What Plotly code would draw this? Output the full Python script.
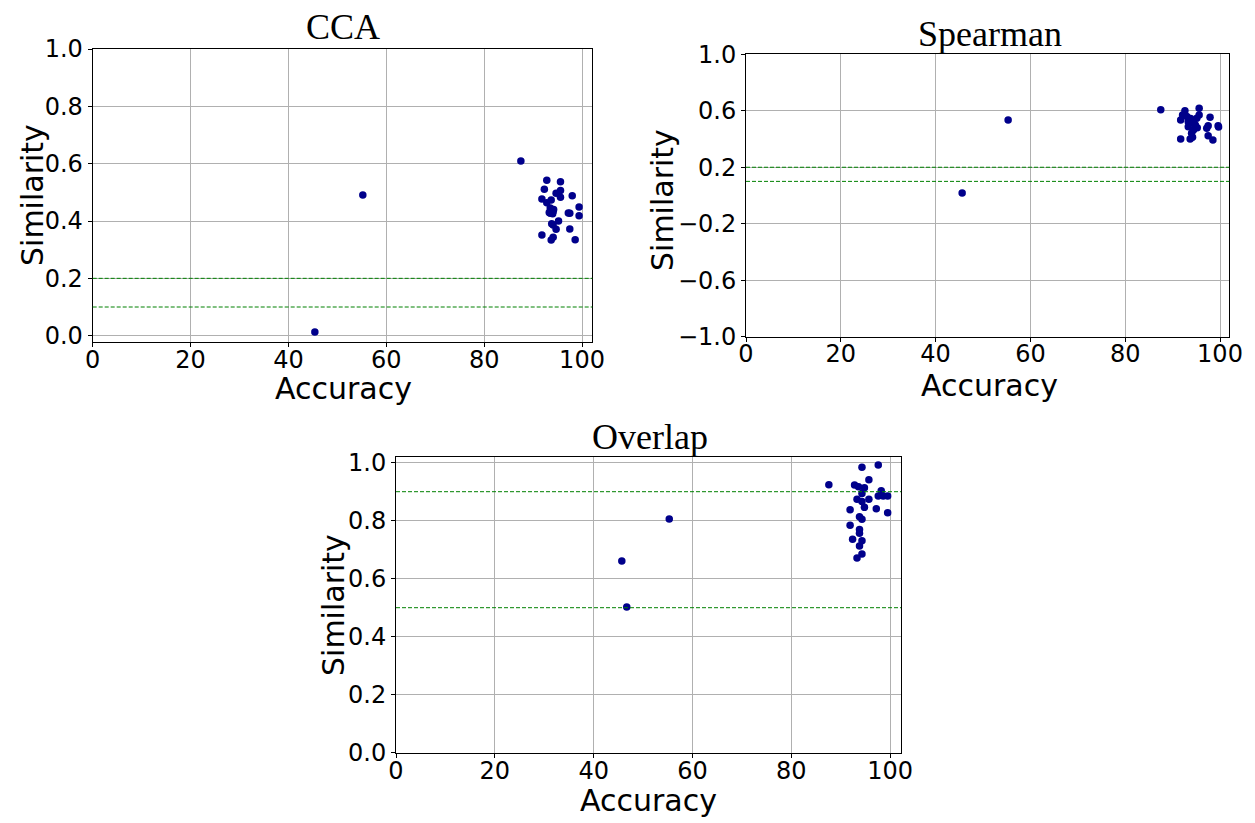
import plotly.graph_objects as go

# ---------------- data ----------------
cca_acc = [45.4, 55.2, 87.5, 92.8, 95.6, 92.3, 95.6, 94.7, 98.0, 95.6, 91.8, 92.8, 93.7,
           99.4, 93.7, 94.1, 93.5, 97.2, 97.5, 99.4, 95.2, 94.1, 94.7, 97.5, 91.8, 94.1,
           93.7, 98.6, 93.5, 94.2, 93.3, 94.0, 93.8]
cca_sim = [0.013, 0.491, 0.609, 0.542, 0.537, 0.511, 0.506, 0.497, 0.488, 0.483, 0.477, 0.464, 0.473,
           0.449, 0.438, 0.433, 0.427, 0.428, 0.427, 0.418, 0.400, 0.386, 0.371, 0.372, 0.351, 0.343,
           0.334, 0.335, 0.445, 0.440, 0.430, 0.425, 0.390]

sp_acc = [45.6, 55.3, 87.5, 92.6, 95.6, 92.1, 95.6, 97.9, 91.7, 93.3, 94.4, 95.1, 93.3,
          97.5, 99.6, 94.4, 97.2, 99.7, 94.0, 97.5, 91.7, 93.7, 98.5, 94.2, 93.0, 94.0,
          94.8, 93.8, 95.2]
sp_sim = [0.018, 0.535, 0.608, 0.600, 0.618, 0.570, 0.570, 0.554, 0.535, 0.523, 0.511, 0.547, 0.487,
          0.494, 0.494, 0.464, 0.476, 0.485, 0.440, 0.424, 0.400, 0.400, 0.393, 0.412, 0.560, 0.530,
          0.500, 0.545, 0.480]

ov_acc = [45.7, 46.7, 55.3, 87.6, 94.3, 97.6, 92.8, 93.6, 94.8, 95.7, 94.3, 98.2, 97.6,
          98.6, 99.5, 93.3, 94.3, 95.7, 94.8, 97.2, 91.9, 99.5, 93.8, 94.3, 91.9, 93.8,
          93.8, 92.4, 94.3, 93.8, 94.3, 93.3]
ov_sim = [0.661, 0.502, 0.806, 0.924, 0.984, 0.992, 0.923, 0.917, 0.914, 0.941, 0.894, 0.903, 0.885,
          0.885, 0.885, 0.874, 0.866, 0.874, 0.846, 0.841, 0.838, 0.827, 0.814, 0.805, 0.784, 0.770,
          0.757, 0.736, 0.731, 0.713, 0.685, 0.671]

cca_thresholds = [0.2, 0.1]
sp_thresholds = [0.2, 0.1]
ov_thresholds = [0.9, 0.5]

x_ticks = [0, 20, 40, 60, 80, 100]
x_ticktext = ["0", "20", "40", "60", "80", "100"]
cca_yticks = [0.0, 0.2, 0.4, 0.6, 0.8, 1.0]
cca_yticktext = ["0.0", "0.2", "0.4", "0.6", "0.8", "1.0"]
sp_yticks = [-1.0, -0.6, -0.2, 0.2, 0.6, 1.0]
sp_yticktext = ["\u22121.0", "\u22120.6", "\u22120.2", "0.2", "0.6", "1.0"]
ov_yticks = [0.0, 0.2, 0.4, 0.6, 0.8, 1.0]
ov_yticktext = ["0.0", "0.2", "0.4", "0.6", "0.8", "1.0"]

titles = ["CCA", "Spearman", "Overlap"]

# ---------------- figure ----------------
W, H = 1255, 823
MARKER = dict(color="#00008B", size=7.5, line=dict(width=0))
TICKFONT = dict(family="DejaVu Sans", size=24, color="black")
LABELFONT = dict(family="DejaVu Sans", size=30, color="black")
TITLEFONT = dict(family="Liberation Serif", size=36, color="black")

fig = go.Figure()
fig.add_trace(go.Scatter(x=cca_acc, y=cca_sim, mode="markers", marker=MARKER, xaxis="x", yaxis="y", showlegend=False))
fig.add_trace(go.Scatter(x=sp_acc, y=sp_sim, mode="markers", marker=MARKER, xaxis="x2", yaxis="y2", showlegend=False))
fig.add_trace(go.Scatter(x=ov_acc, y=ov_sim, mode="markers", marker=MARKER, xaxis="x3", yaxis="y3", showlegend=False))


def px_x(p):
    return p / W


def px_y(p):
    return 1 - p / H


def axis(domain, rng, tickvals, ticktext, anchor, standoff):
    return dict(domain=domain, range=rng, tickvals=tickvals, ticktext=ticktext, anchor=anchor,
                showgrid=True, gridcolor="#b0b0b0", gridwidth=1, zeroline=False,
                showline=True, linecolor="black", linewidth=1, mirror=True,
                ticks="outside", ticklen=4, tickcolor="black", tickfont=TICKFONT,
                automargin=False, ticklabelstandoff=standoff)


fig.update_layout(
    width=W, height=H, margin=dict(l=0, r=0, t=0, b=0, pad=0, autoexpand=False),
    template="none",
    plot_bgcolor="white", paper_bgcolor="white",
    xaxis=axis([px_x(92.7), px_x(592.3)], [0, 102.1], x_ticks, x_ticktext, "y", -8),
    yaxis=axis([px_y(341.7), px_y(49)], [-0.021, 1.0], cca_yticks, cca_yticktext, "x", 0),
    xaxis2=axis([px_x(746), px_x(1229.3)], [0, 101.96], x_ticks, x_ticktext, "y2", -9),
    yaxis2=axis([px_y(336.7), px_y(54.3)], [-1.0, 1.0], sp_yticks, sp_yticktext, "x2", 0),
    xaxis3=axis([px_x(396), px_x(901)], [0, 102.2], x_ticks, x_ticktext, "y3", -8),
    yaxis3=axis([px_y(752.7), px_y(457.3)], [0.0, 1.0186], ov_yticks, ov_yticktext, "x3", 0),
)

shapes = []
for xr, yr, ths in [("x", "y", cca_thresholds), ("x2", "y2", sp_thresholds), ("x3", "y3", ov_thresholds)]:
    for t in ths:
        shapes.append(dict(type="line", xref=f"{xr} domain", yref=yr, x0=0, x1=1, y0=t, y1=t,
                           line=dict(color="green", width=1, dash="4px,2px"), layer="above"))
fig.update_layout(shapes=shapes)

ann = []
# titles
for text, cx, cy in [(titles[0], 343, 27), (titles[1], 990, 34), (titles[2], 650, 437)]:
    ann.append(dict(text=text, x=px_x(cx), y=px_y(cy), xref="paper", yref="paper",
                    xanchor="center", yanchor="middle", showarrow=False, font=TITLEFONT))
# x labels
for cx, cy in [(343, 388), (989, 385), (648, 800)]:
    ann.append(dict(text="Accuracy", x=px_x(cx), y=px_y(cy), xref="paper", yref="paper",
                    xanchor="center", yanchor="middle", showarrow=False, font=LABELFONT))
# y labels
for cx, cy in [(32, 195), (662, 200), (333, 605)]:
    ann.append(dict(text="Similarity", x=px_x(cx), y=px_y(cy), xref="paper", yref="paper",
                    xanchor="center", yanchor="middle", showarrow=False, textangle=-90, font=LABELFONT))
fig.update_layout(annotations=ann)

fig.write_html("out.html")
